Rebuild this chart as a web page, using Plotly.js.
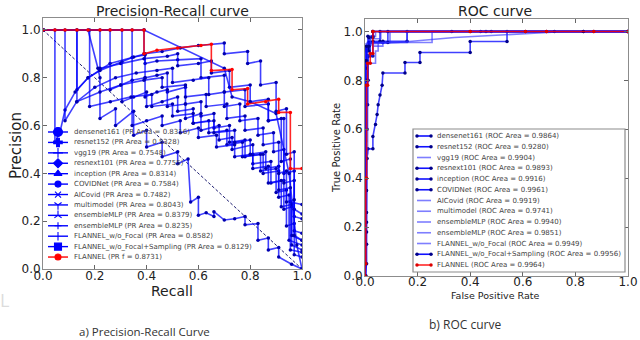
<!DOCTYPE html>
<html>
<head>
<meta charset="utf-8">
<script src="https://cdn.plot.ly/plotly-3.0.1.min.js"></script>
<style>
  html, body { margin: 0; padding: 0; background: #fff; }
  #grafico { width: 640px; height: 340px; }
</style>
</head>
<body>
<div id="grafico"></div>
<script>
// Curvas Precision-Recall e ROC lado a lado
// Valores (aproximados)

// ---- Precision-Recall: recall (rec*) e precision (prec*) ----
const recDensenet161 = [0, 0.046, 0.046, 0.065, 0.085, 0.124, 0.174, 0.259, 0.344, 0.394, 0.394, 0.44, 0.52, 0.61, 0.61, 0.70, 0.70, 0.78, 0.78, 0.87, 0.87, 0.93, 0.93, 0.97, 0.97, 1.0];
const precDensenet161 = [1, 1, 0.53, 0.57, 0.665, 0.74, 0.80, 0.86, 0.885, 0.90, 0.86, 0.87, 0.875, 0.88, 0.80, 0.81, 0.74, 0.75, 0.68, 0.69, 0.62, 0.63, 0.40, 0.41, 0.22, 0.21];

const recResnet152 = [0, 0.174, 0.212, 0.22, 0.22, 0.28, 0.28, 0.35, 0.35, 0.40, 0.40, 0.46, 0.46, 0.52, 0.52, 0.56, 0.57, 0.60, 0.60, 0.63, 0.66, 0.66, 0.70, 0.74, 0.78, 0.78, 0.83, 0.83, 0.87, 0.87, 0.91, 0.91, 0.96, 1.0];
const precResnet152 = [1, 1, 0.84, 0.80, 0.63, 0.67, 0.60, 0.66, 0.56, 0.58, 0.51, 0.53, 0.47, 0.49, 0.44, 0.46, 0.28, 0.30, 0.225, 0.235, 0.22, 0.24, 0.205, 0.21, 0.22, 0.185, 0.19, 0.12, 0.13, 0.08, 0.09, 0.05, 0.02, 0.0];

const recVgg19 = [0, 0.131, 0.131, 0.174, 0.22, 0.305, 0.35, 0.394, 0.394, 0.44, 0.48, 0.48, 0.55, 0.55, 0.61, 0.61, 0.66, 0.66, 0.72, 0.72, 0.78, 0.78, 0.85, 0.85, 0.91, 0.91, 0.95, 0.95, 1.0];
const precVgg19 = [1, 1, 0.75, 0.80, 0.83, 0.866, 0.887, 0.895, 0.80, 0.81, 0.82, 0.74, 0.76, 0.69, 0.70, 0.64, 0.65, 0.59, 0.60, 0.53, 0.54, 0.47, 0.48, 0.40, 0.41, 0.30, 0.31, 0.12, 0.10];

const recResnext101 = [0, 0.259, 0.259, 0.30, 0.344, 0.394, 0.394, 0.44, 0.48, 0.48, 0.55, 0.55, 0.61, 0.61, 0.68, 0.68, 0.73, 0.73, 0.81, 0.81, 0.88, 0.88, 0.93, 0.93, 0.96, 0.96, 1.0];
const precResnext101 = [1, 1, 0.75, 0.77, 0.79, 0.80, 0.72, 0.74, 0.75, 0.68, 0.69, 0.63, 0.65, 0.58, 0.60, 0.54, 0.55, 0.50, 0.52, 0.44, 0.45, 0.36, 0.37, 0.25, 0.26, 0.10, 0.08];

const recInception = [0, 0.22, 0.22, 0.30, 0.39, 0.48, 0.52, 0.52, 0.60, 0.65, 0.65, 0.72, 0.72, 0.80, 0.80, 0.87, 0.87, 0.92, 0.92, 0.955, 0.955, 1.0];
const precInception = [1, 1, 0.84, 0.86, 0.88, 0.89, 0.90, 0.85, 0.86, 0.87, 0.82, 0.83, 0.76, 0.77, 0.70, 0.71, 0.62, 0.63, 0.45, 0.46, 0.28, 0.27];

const recCovidnet = [0, 0.305, 0.305, 0.35, 0.40, 0.40, 0.46, 0.52, 0.52, 0.58, 0.58, 0.64, 0.64, 0.71, 0.71, 0.77, 0.77, 0.84, 0.84, 0.90, 0.90, 0.94, 0.94, 0.97, 0.97, 1.0];
const precCovidnet = [1, 1, 0.70, 0.72, 0.74, 0.68, 0.70, 0.72, 0.66, 0.67, 0.61, 0.62, 0.57, 0.58, 0.52, 0.53, 0.47, 0.48, 0.41, 0.42, 0.32, 0.33, 0.18, 0.19, 0.06, 0.05];

const recAicovid = [0, 0.344, 0.344, 0.40, 0.46, 0.46, 0.53, 0.53, 0.60, 0.60, 0.67, 0.67, 0.74, 0.74, 0.81, 0.81, 0.87, 0.87, 0.92, 0.92, 0.96, 0.96, 1.0];
const precAicovid = [1, 1, 0.60, 0.62, 0.64, 0.60, 0.62, 0.57, 0.59, 0.55, 0.56, 0.51, 0.52, 0.47, 0.48, 0.42, 0.43, 0.36, 0.37, 0.26, 0.27, 0.14, 0.12];

const recMultimodel = [0, 0.085, 0.085, 0.13, 0.20, 0.28, 0.36, 0.44, 0.50, 0.50, 0.58, 0.64, 0.64, 0.70, 0.70, 0.76, 0.76, 0.83, 0.83, 0.89, 0.89, 0.93, 0.93, 0.97, 0.97, 1.0];
const precMultimodel = [1, 1, 0.62, 0.70, 0.76, 0.80, 0.82, 0.83, 0.84, 0.78, 0.79, 0.80, 0.73, 0.74, 0.68, 0.69, 0.62, 0.63, 0.56, 0.57, 0.49, 0.50, 0.36, 0.37, 0.16, 0.15];

const recEnsembleA = [0, 0.39, 0.70, 0.73, 0.80, 0.90, 0.95, 0.98, 1.0];
const precEnsembleA = [1, 1, 0.84, 0.72, 0.70, 0.65, 0.40, 0.10, 0.0];

const recEnsembleB = [0, 0.18, 0.18, 0.26, 0.34, 0.42, 0.42, 0.50, 0.50, 0.58, 0.58, 0.66, 0.66, 0.74, 0.74, 0.80, 0.80, 0.86, 0.86, 0.91, 0.91, 0.955, 0.955, 1.0];
const precEnsembleB = [1, 1, 0.68, 0.70, 0.72, 0.73, 0.68, 0.69, 0.64, 0.65, 0.61, 0.62, 0.57, 0.58, 0.53, 0.54, 0.48, 0.49, 0.42, 0.43, 0.33, 0.34, 0.08, 0.07];

const recFlannelNoFocal = [0, 0.39, 0.39, 0.46, 0.53, 0.60, 0.70, 0.70, 0.79, 0.79, 0.84, 0.84, 0.90, 0.90, 0.94, 0.94, 0.97, 0.97, 1.0];
const precFlannelNoFocal = [1, 1, 0.90, 0.91, 0.925, 0.935, 0.945, 0.90, 0.91, 0.86, 0.87, 0.77, 0.78, 0.66, 0.67, 0.48, 0.49, 0.25, 0.23];

const recFlannelSampling = [0, 0.131, 0.131, 0.22, 0.30, 0.39, 0.46, 0.46, 0.55, 0.55, 0.63, 0.63, 0.71, 0.71, 0.78, 0.78, 0.85, 0.85, 0.91, 0.91, 0.94, 0.94, 0.97, 0.97, 1.0];
const precFlannelSampling = [1, 1, 0.70, 0.74, 0.77, 0.79, 0.80, 0.76, 0.77, 0.72, 0.73, 0.68, 0.69, 0.63, 0.64, 0.58, 0.59, 0.52, 0.53, 0.40, 0.41, 0.28, 0.29, 0.14, 0.12];

const recFlannel = [0, 0.046, 0.085, 0.131, 0.174, 0.22, 0.259, 0.305, 0.344, 0.39, 0.39, 0.44, 0.52, 0.61, 0.65, 0.65, 0.73, 0.73, 0.79, 0.79, 0.86, 0.91, 0.91, 0.955, 0.955, 1.0];
const precFlannel = [1, 1, 1, 1, 1, 1, 1, 1, 1, 1, 0.90, 0.915, 0.925, 0.935, 0.94, 0.83, 0.835, 0.75, 0.755, 0.69, 0.70, 0.71, 0.655, 0.655, 0.42, 0.42];

// linha de referência (aleatório)
const diagRecall = [0, 1];
const diagPrecision = [1, 0];

// ---- ROC: fpr e tpr ----
const fprDensenet161 = [0, 0, 0.004, 0.004, 0.008, 0.008, 0.012, 0.012, 0.02, 0.02, 0.068, 0.068, 0.16, 0.16, 0.44, 0.69, 1.0];
const tprDensenet161 = [0, 0.35, 0.35, 0.60, 0.60, 0.80, 0.80, 0.90, 0.90, 0.955, 0.955, 0.96, 0.96, 1.0, 1.0, 1.0, 1.0];

const fprResnet152 = [0, 0.006, 0.006, 0.006, 0.006, 0.006, 0.006, 0.008, 0.011, 0.03, 0.03, 0.04, 0.046, 0.05, 0.057, 0.065, 0.068, 0.152, 0.152, 0.209, 0.209, 0.40, 0.40, 0.54, 0.54, 0.83, 1.0];
const tprResnet152 = [0, 0.05, 0.13, 0.18, 0.22, 0.26, 0.35, 0.48, 0.52, 0.52, 0.57, 0.62, 0.66, 0.70, 0.74, 0.78, 0.83, 0.83, 0.873, 0.873, 0.914, 0.914, 0.959, 0.959, 1.0, 1.0, 1.0];

const fprVgg19 = [0, 0, 0.006, 0.006, 0.03, 0.125, 0.34, 0.76, 1.0];
const tprVgg19 = [0, 0.55, 0.55, 0.93, 0.95, 0.955, 0.975, 1.0, 1.0];

const fprResnext101 = [0, 0.004, 0.004, 0.01, 0.01, 0.03, 0.03, 0.057, 0.057, 0.46, 0.87, 1.0];
const tprResnext101 = [0, 0, 0.70, 0.70, 0.90, 0.90, 0.96, 0.96, 1.0, 1.0, 1.0, 1.0];

const fprInception = [0, 0, 0.006, 0.006, 0.015, 0.015, 0.087, 0.087, 0.48, 1.0];
const tprInception = [0, 0.80, 0.80, 0.92, 0.92, 0.955, 0.955, 1.0, 1.0, 1.0];

const fprCovidnet = [0, 0, 0.003, 0.003, 0.011, 0.011, 0.03, 0.03, 0.33, 0.72, 1.0];
const tprCovidnet = [0, 0.85, 0.85, 0.93, 0.93, 0.98, 0.98, 1.0, 1.0, 1.0, 1.0];

const fprAicovid = [0, 0, 0.008, 0.008, 0.095, 0.095, 1.0];
const tprAicovid = [0, 0.88, 0.88, 0.955, 0.955, 1.0, 1.0];

const fprMultimodel = [0, 0, 0.01, 0.01, 0.04, 0.04, 0.05, 0.05, 0.255, 0.255, 1.0];
const tprMultimodel = [0, 0.5, 0.5, 0.87, 0.87, 0.92, 0.92, 0.955, 0.955, 1.0, 1.0];

const fprEnsembleA = [0, 0, 0.005, 0.005, 0.02, 0.02, 0.06, 0.06, 1.0];
const tprEnsembleA = [0, 0.90, 0.90, 0.94, 0.94, 0.97, 0.97, 1.0, 1.0];

const fprEnsembleB = [0, 0, 0.01, 0.01, 0.03, 0.03, 0.068, 0.068, 0.16, 0.16, 1.0];
const tprEnsembleB = [0, 0.78, 0.78, 0.90, 0.90, 0.94, 0.94, 0.955, 0.955, 1.0, 1.0];

const fprFlannelNoFocal = [0, 0, 0.004, 0.004, 0.02, 0.02, 0.04, 0.04, 1.0];
const tprFlannelNoFocal = [0, 0.90, 0.90, 0.95, 0.95, 0.98, 0.98, 1.0, 1.0];

const fprFlannelSampling = [0, 0, 0.006, 0.006, 0.015, 0.015, 0.03, 0.03, 0.40, 0.61, 0.83, 1.0];
const tprFlannelSampling = [0, 0.88, 0.88, 0.94, 0.94, 0.975, 0.975, 1.0, 1.0, 1.0, 1.0, 1.0];

const fprFlannel = [0, 0, 0.003, 0.003, 0.006, 0.006, 0.01, 0.01, 0.02, 0.02, 0.03, 0.03, 0.40, 0.61, 0.69, 0.87, 1.0];
const tprFlannel = [0, 0.05, 0.05, 0.40, 0.40, 0.78, 0.78, 0.87, 0.87, 0.91, 0.91, 1.0, 1.0, 1.0, 1.0, 1.0, 1.0];

// ---- rótulos ----
const prLabels = [
  "densenet161 (PR Area = 0.8316)",
  "resnet152 (PR Area = 0.5328)",
  "vgg19 (PR Area = 0.7548)",
  "resnext101 (PR Area = 0.7755)",
  "inception (PR Area = 0.8314)",
  "COVIDNet (PR Area = 0.7584)",
  "AICovid (PR Area = 0.7482)",
  "multimodel (PR Area = 0.8043)",
  "ensembleMLP (PR Area = 0.8379)",
  "ensembleMLP (PR Area = 0.8235)",
  "FLANNEL_w/o_Focal (PR Area = 0.8582)",
  "FLANNEL_w/o_Focal+Sampling (PR Area = 0.8129)",
  "FLANNEL (PR f = 0.8731)"
];
const rocLabels = [
  "densenet161 (ROC Area = 0.9864)",
  "resnet152 (ROC Area = 0.9280)",
  "vgg19 (ROC Area = 0.9904)",
  "resnext101 (ROC Area = 0.9893)",
  "inception (ROC Area = 0.9916)",
  "COVIDNet (ROC Area = 0.9961)",
  "AICovid (ROC Area = 0.9919)",
  "multimodel (ROC Area = 0.9741)",
  "ensembleMLP (ROC Area = 0.9940)",
  "ensembleMLP (ROC Area = 0.9851)",
  "FLANNEL_w/o_Focal (ROC Area = 0.9949)",
  "FLANNEL_w/o_Focal+Sampling (ROC Area = 0.9956)",
  "FLANNEL (ROC Area = 0.9964)"
];

const prCurvas = [
  [recDensenet161, precDensenet161], [recResnet152, precResnet152], [recVgg19, precVgg19],
  [recResnext101, precResnext101], [recInception, precInception], [recCovidnet, precCovidnet],
  [recAicovid, precAicovid], [recMultimodel, precMultimodel], [recEnsembleA, precEnsembleA],
  [recEnsembleB, precEnsembleB], [recFlannelNoFocal, precFlannelNoFocal],
  [recFlannelSampling, precFlannelSampling], [recFlannel, precFlannel]
];
const rocCurvas = [
  [fprDensenet161, tprDensenet161], [fprResnet152, tprResnet152], [fprVgg19, tprVgg19],
  [fprResnext101, tprResnext101], [fprInception, tprInception], [fprCovidnet, tprCovidnet],
  [fprAicovid, tprAicovid], [fprMultimodel, tprMultimodel], [fprEnsembleA, tprEnsembleA],
  [fprEnsembleB, tprEnsembleB], [fprFlannelNoFocal, tprFlannelNoFocal],
  [fprFlannelSampling, tprFlannelSampling], [fprFlannel, tprFlannel]
];

// ---- estilo ----
const W = 640, H = 340;
const fx = v => v / W;
const fy = v => 1 - v / H;
const fonte = "DejaVu Sans, sans-serif";

const azulLinha = "rgba(0,0,255,0.75)";
const azulClaro = "rgba(40,40,255,0.6)";
const azulPonto = "#0000b0";
const vermelho = "rgba(255,0,0,0.85)";

const prSimbolos = ["circle", "cross", "cross-thin", "diamond", "triangle-up", "circle", "x-thin",
  "y-down", "y-up", "cross-thin", "line-ns", "square", "circle"];
const prTamanhos = [9, 7, 7, 7, 7, 6, 6, 6, 6, 5, 6, 7, 6];
const rocComPontos = [true, true, false, true, true, true, false, false, false, false, false, true, true];

// posição das legendas (pixels da página)
const prLeg = { x0: 48, xm: 58, x1: 68, xt: 72, topo: 132, passo: 10.42 };
const rocLeg = { x0: 417, x1: 431, xt: 435, topo: 136, passo: 10.75, caixa: [413, 129, 625, 272] };

const data = [];

data.push({
  x: diagRecall, y: diagPrecision, xaxis: "x", yaxis: "y",
  type: "scatter", mode: "lines", hoverinfo: "skip",
  line: { color: "#1a1a70", width: 1, dash: "3px,2px" }
});

prCurvas.forEach((c, i) => {
  const ehFlannel = i === prCurvas.length - 1;
  data.push({
    x: c[0], y: c[1], xaxis: "x", yaxis: "y",
    type: "scatter", mode: "lines+markers", name: prLabels[i],
    line: { color: ehFlannel ? vermelho : azulLinha, width: 1.6 },
    marker: { size: 3.5, color: ehFlannel ? "#ff0000" : azulPonto }
  });
});

rocCurvas.forEach((c, i) => {
  const ehFlannel = i === rocCurvas.length - 1;
  data.push({
    x: c[0], y: c[1], xaxis: "x2", yaxis: "y2",
    type: "scatter", mode: rocComPontos[i] ? "lines+markers" : "lines", name: rocLabels[i],
    line: { color: ehFlannel ? vermelho : (rocComPontos[i] ? azulLinha : azulClaro), width: 1.6 },
    marker: { size: 3.5, color: ehFlannel ? "#dd0000" : "#00008b" }
  });
});

// legendas desenhadas à mão (a legenda do Plotly não fica tão compacta)
const annotations = [];
prLabels.forEach((txt, i) => {
  const yy = prLeg.topo + i * prLeg.passo;
  const cor = i === prLabels.length - 1 ? "#ff0000" : "#0000ff";
  data.push({
    x: [prLeg.x0, prLeg.x1], y: [yy, yy], xaxis: "x3", yaxis: "y3",
    type: "scatter", mode: "lines", hoverinfo: "skip",
    line: { color: cor, width: 1.4 }
  });
  data.push({
    x: [prLeg.xm], y: [yy], xaxis: "x3", yaxis: "y3",
    type: "scatter", mode: "markers", hoverinfo: "skip",
    marker: { symbol: prSimbolos[i], size: prTamanhos[i], color: cor, line: { color: cor, width: 1.1 } }
  });
  annotations.push({
    xref: "x3", yref: "y3", x: prLeg.xt, y: yy, text: txt, showarrow: false,
    xanchor: "left", yanchor: "middle", font: { family: fonte, size: 7, color: "#444" }
  });
});

rocLabels.forEach((txt, i) => {
  const yy = rocLeg.topo + i * rocLeg.passo;
  const ehFlannel = i === rocLabels.length - 1;
  data.push({
    x: [rocLeg.x0, rocLeg.x1], y: [yy, yy], xaxis: "x3", yaxis: "y3",
    type: "scatter", mode: rocComPontos[i] ? "lines+markers" : "lines", hoverinfo: "skip",
    line: { color: ehFlannel ? vermelho : (rocComPontos[i] ? "#1010ff" : azulClaro), width: 1.6 },
    marker: { size: 3.5, color: ehFlannel ? "#dd0000" : "#00008b" }
  });
  annotations.push({
    xref: "x3", yref: "y3", x: rocLeg.xt, y: yy, text: txt, showarrow: false,
    xanchor: "left", yanchor: "middle", font: { family: fonte, size: 7, color: "#444" }
  });
});

function texto(t, x, y, tam, extra) {
  return Object.assign({
    xref: "paper", yref: "paper", x: fx(x), y: fy(y), text: t, showarrow: false,
    xanchor: "center", yanchor: "middle", font: { family: fonte, size: tam, color: "#222" }
  }, extra || {});
}

annotations.push(texto("Precision-Recall curve", 172, 11, 14));
annotations.push(texto("Recall", 172, 291, 14));
annotations.push(texto("Precision", 16, 146, 15, { textangle: -90 }));
annotations.push(texto("ROC curve", 495, 11, 14));
annotations.push(texto("False Positive Rate", 495, 295, 9.5));
annotations.push(texto("True Positive Rate", 336, 148, 10, { textangle: -90 }));
annotations.push(texto("a) Precision-Recall Curve", 144, 331, 11.5,
  { font: { family: "Open Sans, sans-serif", size: 11.5, color: "#333" } }));
annotations.push(texto("b) ROC curve", 465, 324, 12,
  { font: { family: "Open Sans, sans-serif", size: 12, color: "#333" } }));
annotations.push(texto("L", 4, 300, 18, { font: { family: "Open Sans, sans-serif", size: 18, color: "#dcdcdc" } }));

function eixo(dominio, faixa, ancora, recuo) {
  return {
    domain: dominio, range: faixa, anchor: ancora,
    tickvals: [0, 0.2, 0.4, 0.6, 0.8, 1.0], tickformat: ".1f",
    showgrid: false, zeroline: false,
    showline: true, mirror: "ticks", linecolor: "#8c8c8c", linewidth: 1,
    ticks: "inside", ticklen: 4, tickcolor: "#666",
    ticklabelstandoff: recuo,
    tickfont: { family: fonte, size: 12, color: "#222" },
    fixedrange: true
  };
}

const layout = {
  width: W, height: H,
  margin: { l: 0, r: 0, t: 0, b: 0 },
  paper_bgcolor: "#fff", plot_bgcolor: "rgba(0,0,0,0)",
  showlegend: false,
  xaxis: eixo([fx(43), fx(302)], [0, 1], "y", -4),
  yaxis: eixo([fy(269), fy(18)], [0, 1.05], "x", -1),
  xaxis2: eixo([fx(365), fx(628)], [0, 1], "y2", -5),
  yaxis2: eixo([fy(276), fy(18.5)], [0, 1.053], "x2", -1),
  xaxis3: { domain: [0, 1], range: [0, W], anchor: "y3", visible: false, fixedrange: true },
  yaxis3: { domain: [0, 1], range: [H, 0], anchor: "x3", visible: false, fixedrange: true },
  shapes: [{
    type: "rect", xref: "x3", yref: "y3", layer: "below",
    x0: rocLeg.caixa[0], y0: rocLeg.caixa[1], x1: rocLeg.caixa[2], y1: rocLeg.caixa[3],
    fillcolor: "#fff", line: { color: "#8c8c8c", width: 1.2 }
  }],
  annotations: annotations
};

Plotly.newPlot("grafico", data, layout, { staticPlot: true, displayModeBar: false });
</script>
</body>
</html>
